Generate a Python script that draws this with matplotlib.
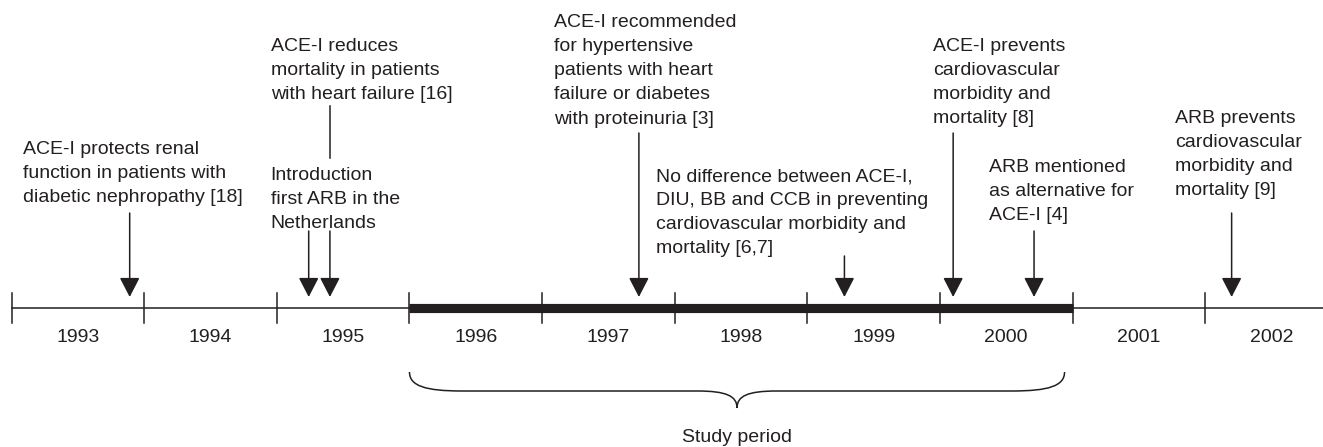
import matplotlib
matplotlib.use("Agg")
import matplotlib.pyplot as plt
from matplotlib.path import Path
from matplotlib.patches import PathPatch

plt.rcParams['font.family'] = ['Liberation Sans', 'DejaVu Sans']

INK = '#231f20'

# timeline data
years = list(range(1993, 2003))
study_period = (1996, 2001)

# events: position on the time axis and annotation text
event_x = [1993.89, 1995.24, 1995.40, 1997.73, 1999.28, 2000.10, 2000.71, 2002.20]
event_text = [
    "ACE-I protects renal\nfunction in patients with\ndiabetic nephropathy [18]",
    "Introduction\nfirst ARB in the\nNetherlands",
    "ACE-I reduces\nmortality in patients\nwith heart failure [16]",
    "ACE-I recommended\nfor hypertensive\npatients with heart\nfailure or diabetes\nwith proteinuria [3]",
    "No difference between ACE-I,\nDIU, BB and CCB in preventing\ncardiovascular morbidity and\nmortality [6,7]",
    "ACE-I prevents\ncardiovascular\nmorbidity and\nmortality [8]",
    "ARB mentioned\nas alternative for\nACE-I [4]",
    "ARB prevents\ncardiovascular\nmorbidity and\nmortality [9]",
]

# layout (text left edge in years, text top and arrow start in pixels from top)
text_left = [1993.087, 1994.953, 1994.953, 1997.090, 1997.86, 1999.950, 2000.373, 2001.773]
text_top = [141, 167, 38, 14, 168, 38, 159, 110]
arrow_top = [213, 231, 231, 133, 256, 133, 231, 213]

fig = plt.figure(figsize=(13.23, 4.47), dpi=100)
ax = fig.add_axes([0, 0, 1, 1])
ax.set_xlim(1992.912, 2002.889)
ax.set_ylim(447, 0)
ax.axis('off')

line_y = 307.7
tip_y = 297

# base line and study period
ax.plot([years[0], ax.get_xlim()[1]], [line_y, line_y], color=INK, lw=1.1)
ax.plot(study_period, [line_y, line_y], color=INK, lw=6.6, solid_capstyle='butt')

for yr in years:
    ax.plot([yr, yr], [293, 323], color=INK, lw=1.1)
    ax.text(yr + 0.5, 337, str(yr), ha='center', va='center', fontsize=14, color=INK)

# arrows and texts
for x, txt, tx, ty, at in zip(event_x, event_text, text_left, text_top, arrow_top):
    ax.annotate('', xy=(x, tip_y), xytext=(x, at),
                arrowprops=dict(arrowstyle='-|>,head_length=1.2,head_width=0.62',
                                lw=1.1, color=INK, shrinkA=0, shrinkB=0))
    ax.text(tx, ty, txt, ha='left', va='top', fontsize=14, color=INK, linespacing=1.55)

# connector from heart failure text down past the ARB text
ax.plot([event_x[2], event_x[2]], [106, 158], color=INK, lw=1.1)

# brace under the study period
b0, b1 = study_period[0], study_period[1] - 0.06
bm = (b0 + b1) / 2
top, mid, tip = 372, 391, 408
verts = [
    (b0, top), (b0, 386), (b0 + 0.12, mid), (b0 + 0.4, mid),
    (bm - 0.3, mid),
    (bm - 0.08, mid), (bm, 396), (bm, tip),
    (bm, 396), (bm + 0.08, mid), (bm + 0.3, mid),
    (b1 - 0.4, mid),
    (b1 - 0.12, mid), (b1, 386), (b1, top),
]
codes = [Path.MOVETO, Path.CURVE4, Path.CURVE4, Path.CURVE4,
         Path.LINETO,
         Path.CURVE4, Path.CURVE4, Path.CURVE4,
         Path.CURVE4, Path.CURVE4, Path.CURVE4,
         Path.LINETO,
         Path.CURVE4, Path.CURVE4, Path.CURVE4]
ax.add_patch(PathPatch(Path(verts, codes), fill=False, edgecolor=INK, lw=1.1))

ax.text(bm, 438, "Study period", ha='center', va='center', fontsize=14, color=INK)

fig.savefig("out.png", dpi=100)
